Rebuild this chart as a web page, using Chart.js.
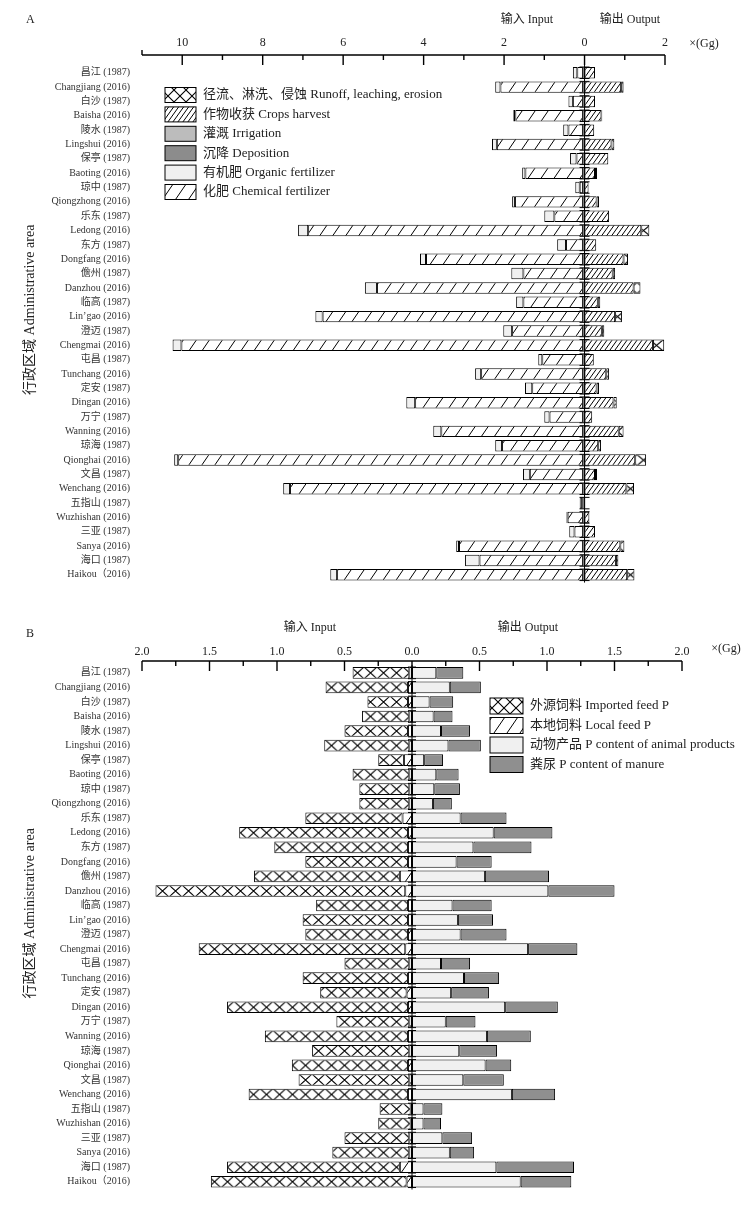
<!DOCTYPE html>
<html>
<head>
<meta charset="utf-8">
<script src="https://cdn.jsdelivr.net/npm/chart.js@4.4.1/dist/chart.umd.min.js"></script>
<style>
  html, body { margin: 0; padding: 0; background: #fff; }
  #wrap { position: relative; width: 756px; height: 1207px; }
  .panel { position: absolute; left: 0; width: 756px; }
</style>
</head>
<body>
<div id="wrap">
  <div class="panel" style="top:0;height:600px"><canvas id="chartA"></canvas></div>
  <div class="panel" style="top:600px;height:607px"><canvas id="chartB"></canvas></div>
</div>
<script>
const labels = ['昌江 (1987)', 'Changjiang (2016)', '白沙 (1987)', 'Baisha (2016)', '陵水 (1987)', 'Lingshui (2016)',
  '保亭 (1987)', 'Baoting (2016)', '琼中 (1987)', 'Qiongzhong (2016)', '乐东 (1987)', 'Ledong (2016)',
  '东方 (1987)', 'Dongfang (2016)', '儋州 (1987)', 'Danzhou (2016)', '临高 (1987)', 'Lin’gao (2016)',
  '澄迈 (1987)', 'Chengmai (2016)', '屯昌 (1987)', 'Tunchang (2016)', '定安 (1987)', 'Dingan (2016)',
  '万宁 (1987)', 'Wanning (2016)', '琼海 (1987)', 'Qionghai (2016)', '文昌 (1987)', 'Wenchang (2016)',
  '五指山 (1987)', 'Wuzhishan (2016)', '三亚 (1987)', 'Sanya (2016)', '海口 (1987)', 'Haikou（2016)'];

// panel A (x Gg), input side
const organicA = [0.11, 0.13, 0.11, 0.05, 0.13, 0.12, 0.16, 0.08, 0.11, 0.07, 0.25, 0.25, 0.22, 0.15, 0.30, 0.30, 0.18, 0.18,
  0.22, 0.22, 0.10, 0.15, 0.18, 0.22, 0.13, 0.20, 0.17, 0.10, 0.17, 0.17, 0.06, 0.03, 0.13, 0.07, 0.36, 0.17];
const chemicalA = [0.14, 2.05, 0.25, 1.68, 0.36, 2.14, 0.16, 1.43, 0.08, 1.69, 0.71, 6.83, 0.42, 3.90, 1.48, 5.12, 1.48, 6.47,
  1.76, 9.98, 1.01, 2.53, 1.26, 4.17, 0.83, 3.52, 2.01, 10.06, 1.32, 7.28, 0.02, 0.38, 0.21, 3.08, 2.57, 6.11];
const irrigationA = [0.01, 0.01, 0.01, 0.01, 0.01, 0.01, 0.01, 0.01, 0.01, 0.01, 0.01, 0.01, 0.01, 0.01, 0.01, 0.01, 0.01, 0.01,
  0.01, 0.01, 0.01, 0.01, 0.01, 0.01, 0.01, 0.01, 0.01, 0.01, 0.01, 0.01, 0.01, 0.01, 0.01, 0.01, 0.01, 0.01];
const depositionA = [0.03, 0.03, 0.03, 0.03, 0.03, 0.03, 0.03, 0.03, 0.03, 0.03, 0.03, 0.03, 0.03, 0.03, 0.03, 0.03, 0.03, 0.03,
  0.03, 0.03, 0.03, 0.03, 0.03, 0.03, 0.03, 0.03, 0.03, 0.03, 0.03, 0.03, 0.03, 0.03, 0.03, 0.03, 0.03, 0.03];
// panel A, output side
const cropsA = [0.26, 0.91, 0.26, 0.42, 0.24, 0.67, 0.59, 0.26, 0.10, 0.30, 0.61, 1.41, 0.29, 0.97, 0.70, 1.22, 0.33, 0.76,
  0.43, 1.70, 0.23, 0.54, 0.30, 0.72, 0.19, 0.85, 0.34, 1.26, 0.26, 1.04, 0.02, 0.12, 0.26, 0.89, 0.78, 1.06];
const runoffA = [0, 0.06, 0, 0.02, 0, 0.07, 0, 0.05, 0, 0.06, 0, 0.20, 0, 0.11, 0.06, 0.17, 0.06, 0.17,
  0.06, 0.28, 0, 0.07, 0.06, 0.08, 0, 0.12, 0.07, 0.27, 0.05, 0.19, 0, 0, 0, 0.10, 0.06, 0.18];
const ticksA = [-10, -8, -6, -4, -2, 0, 2];
const minorA = [-9, -7, -5, -3, -1, 1];

// panel B (x Gg)
const importedB = [0.42, 0.61, 0.30, 0.35, 0.47, 0.63, 0.19, 0.42, 0.37, 0.37, 0.72, 1.25, 0.99, 0.76, 1.08, 1.85, 0.68, 0.78,
  0.76, 1.53, 0.48, 0.78, 0.64, 1.34, 0.54, 1.06, 0.72, 0.86, 0.82, 1.18, 0.23, 0.24, 0.48, 0.57, 1.28, 1.45];
const localB = [0.02, 0.03, 0.03, 0.02, 0.03, 0.02, 0.06, 0.02, 0.02, 0.02, 0.07, 0.03, 0.03, 0.03, 0.09, 0.05, 0.03, 0.03,
  0.03, 0.05, 0.02, 0.03, 0.04, 0.03, 0.02, 0.03, 0.02, 0.03, 0.02, 0.03, 0.01, 0.01, 0.02, 0.02, 0.09, 0.04];
const animalB = [0.18, 0.28, 0.13, 0.16, 0.215, 0.27, 0.09, 0.18, 0.165, 0.155, 0.36, 0.605, 0.455, 0.33, 0.54, 1.01, 0.30, 0.34,
  0.36, 0.86, 0.215, 0.385, 0.29, 0.69, 0.25, 0.555, 0.35, 0.545, 0.38, 0.74, 0.085, 0.085, 0.225, 0.28, 0.625, 0.805];
const manureB = [0.20, 0.23, 0.175, 0.14, 0.215, 0.24, 0.14, 0.165, 0.19, 0.14, 0.34, 0.435, 0.43, 0.26, 0.475, 0.49, 0.29, 0.26,
  0.34, 0.365, 0.215, 0.26, 0.28, 0.39, 0.22, 0.325, 0.28, 0.19, 0.30, 0.32, 0.14, 0.13, 0.22, 0.18, 0.575, 0.375];
const ticksB = [-2, -1.5, -1, -0.5, 0, 0.5, 1, 1.5, 2];
const minorB = [-1.75, -1.25, -0.75, -0.25, 0.25, 0.75, 1.25, 1.75];

const serif = "'Liberation Serif', 'Noto Sans CJK SC', serif";
const neg = arr => arr.map(v => -v);

// fill patterns
const scratch = document.createElement('canvas').getContext('2d');
function tileCanvas(w, h, draw) {
  const c = document.createElement('canvas');
  c.width = w; c.height = h;
  const g = c.getContext('2d');
  g.fillStyle = '#fff';
  g.fillRect(0, 0, w, h);
  g.strokeStyle = '#000';
  draw(g, w, h);
  return c;
}
function hatch(w, h, lw) {
  return scratch.createPattern(tileCanvas(w, h, (g) => {
    g.lineWidth = lw;
    g.beginPath();
    g.moveTo(0, h); g.lineTo(w, 0);
    g.moveTo(-w, h); g.lineTo(0, 0);
    g.moveTo(w, h); g.lineTo(2 * w, 0);
    g.stroke();
  }), 'repeat');
}
function crossTile(w, h) {
  return tileCanvas(w, h, (g) => {
    g.lineWidth = 1.1;
    g.beginPath();
    g.moveTo(0, 0); g.lineTo(w, h);
    g.moveTo(w, 0); g.lineTo(0, h);
    g.stroke();
  });
}
const chemPat = hatch(13, 19, 1);
const cropPat = hatch(5, 7, 1);
const crossPat = scratch.createPattern(crossTile(12, 12), 'repeat');

// cross pattern lined up with each bar
const crossTiles = {};
function crossFill(c) {
  const chart = c.chart;
  if (c.type !== 'data' || !chart.scales || !chart.scales.y) return crossPat;
  const y = chart.scales.y;
  const h = Math.round((y.bottom - y.top) / labels.length * 0.8);
  if (!(h >= 4)) return crossPat;
  if (!crossTiles[h]) crossTiles[h] = crossTile(13, h);
  const p = scratch.createPattern(crossTiles[h], 'repeat');
  const top = y.getPixelForValue(c.dataIndex) - h / 2;
  p.setTransform(new DOMMatrix().translate(0, top));
  return p;
}

const barStyle = {
  borderColor: '#000',
  borderWidth: 1,
  borderSkipped: false,
  barPercentage: 0.8,
  categoryPercentage: 1
};

// top axis drawn by hand
const topAxis = {
  id: 'topAxis',
  afterDraw(chart, args, o) {
    const { ctx, scales: { x } } = chart;
    const px = v => x.getPixelForValue(v);
    ctx.save();
    ctx.strokeStyle = '#000';
    ctx.lineWidth = 1.4;
    ctx.beginPath();
    ctx.moveTo(px(x.min), o.axisY);
    ctx.lineTo(px(x.max), o.axisY);
    o.major.forEach(v => { ctx.moveTo(px(v), o.axisY); ctx.lineTo(px(v), o.axisY + 10); });
    o.minor.forEach(v => { ctx.moveTo(px(v), o.axisY); ctx.lineTo(px(v), o.axisY + 5); });
    (o.up || []).forEach(v => { ctx.moveTo(px(v), o.axisY); ctx.lineTo(px(v), o.axisY - 5); });
    ctx.stroke();
    ctx.fillStyle = '#222';
    ctx.font = '12px ' + serif;
    ctx.textAlign = 'center';
    ctx.textBaseline = 'middle';
    o.major.forEach(v => ctx.fillText(o.fmt(v), px(v), o.labelY));
    o.texts.forEach(t => {
      ctx.font = (t.size || 12) + 'px ' + serif;
      ctx.textAlign = t.align || 'center';
      ctx.fillText(t.text, t.x, t.y);
    });
    // axis title on the left
    const y = chart.scales.y;
    ctx.save();
    ctx.font = '14px ' + serif;
    ctx.translate(30, (y.top + y.bottom) / 2 - 14);
    ctx.rotate(-Math.PI / 2);
    ctx.textAlign = 'center';
    ctx.fillText('行政区域 Administrative area', 0, 0);
    ctx.restore();
    ctx.restore();
  }
};

// zero line with small caps on every bar
const zeroMarks = {
  id: 'zeroMarks',
  afterDatasetsDraw(chart, args, o) {
    const { ctx, scales: { x } } = chart;
    const x0 = x.getPixelForValue(0);
    const bars = chart.getDatasetMeta(0).data;
    let top = Infinity, bot = -Infinity;
    ctx.save();
    ctx.strokeStyle = '#000';
    ctx.lineWidth = 1;
    ctx.beginPath();
    bars.forEach(b => {
      const h = b.height / 2;
      ctx.moveTo(x0 - o.cap, b.y - h); ctx.lineTo(x0 + o.cap, b.y - h);
      ctx.moveTo(x0 - o.cap, b.y + h); ctx.lineTo(x0 + o.cap, b.y + h);
      top = Math.min(top, b.y - h);
      bot = Math.max(bot, b.y + h);
    });
    ctx.moveTo(x0, top - 2);
    ctx.lineTo(x0, bot + 2);
    ctx.stroke();
    ctx.restore();
  }
};

// legend boxes inside the plot
const boxLegend = {
  id: 'boxLegend',
  afterDraw(chart, args, o) {
    const { ctx } = chart;
    ctx.save();
    o.items.forEach((it, i) => {
      const cy = o.y + i * o.step;
      ctx.fillStyle = it.fill;
      ctx.fillRect(o.x, cy - o.h / 2, o.w, o.h);
      ctx.strokeStyle = '#000';
      ctx.lineWidth = 1;
      ctx.strokeRect(o.x, cy - o.h / 2, o.w, o.h);
      ctx.fillStyle = '#222';
      ctx.font = '13px ' + serif;
      ctx.textAlign = 'left';
      ctx.textBaseline = 'middle';
      ctx.fillText(it.text, o.x + o.w + 7, cy);
    });
    ctx.restore();
  }
};

function yScale() {
  return {
    stacked: true,
    grid: { display: false, drawTicks: false },
    border: { display: false },
    ticks: { autoSkip: false, padding: 12, color: '#333', font: { family: serif, size: 10 } },
    afterFit(s) { s.width = 142; }
  };
}

new Chart(document.getElementById('chartA'), {
  type: 'bar',
  data: {
    labels: labels,
    datasets: [
      { label: '沉降 Deposition', data: neg(depositionA), backgroundColor: '#8c8c8c', ...barStyle },
      { label: '灌溉 Irrigation', data: neg(irrigationA), backgroundColor: '#bcbcbc', ...barStyle },
      { label: '化肥 Chemical fertilizer', data: neg(chemicalA), backgroundColor: chemPat, ...barStyle },
      { label: '有机肥 Organic fertilizer', data: neg(organicA), backgroundColor: '#f0f0f0', ...barStyle },
      { label: '作物收获 Crops harvest', data: cropsA, backgroundColor: cropPat, ...barStyle },
      { label: '径流、淋洗、侵蚀 Runoff, leaching, erosion', data: runoffA, backgroundColor: crossFill, ...barStyle }
    ]
  },
  options: {
    indexAxis: 'y',
    responsive: true,
    maintainAspectRatio: false,
    animation: false,
    layout: { padding: { top: 65.6, bottom: 5.2, left: 0, right: 91 } },
    plugins: {
      legend: { display: false },
      tooltip: { enabled: false },
      topAxis: {
        axisY: 55, labelY: 43, major: ticksA, minor: minorA, up: [-11],
        fmt: v => String(Math.abs(v)),
        texts: [
          { text: 'A', x: 26, y: 20, align: 'left' },
          { text: '输入 Input', x: 527, y: 20 },
          { text: '输出 Output', x: 630, y: 20 },
          { text: '×(Gg)', x: 704, y: 44 }
        ]
      },
      zeroMarks: { cap: 5 },
      boxLegend: {
        x: 165, y: 95, step: 19.4, w: 31, h: 15,
        items: [
          { fill: crossPat, text: '径流、淋洗、侵蚀 Runoff, leaching, erosion' },
          { fill: cropPat, text: '作物收获 Crops harvest' },
          { fill: '#bcbcbc', text: '灌溉 Irrigation' },
          { fill: '#8c8c8c', text: '沉降 Deposition' },
          { fill: '#f0f0f0', text: '有机肥 Organic fertilizer' },
          { fill: chemPat, text: '化肥 Chemical fertilizer' }
        ]
      }
    },
    scales: {
      x: { stacked: true, min: -11, max: 2, display: false },
      y: yScale()
    }
  },
  plugins: [topAxis, zeroMarks, boxLegend]
});

new Chart(document.getElementById('chartB'), {
  type: 'bar',
  data: {
    labels: labels,
    datasets: [
      { label: '本地饲料 Local feed P', data: neg(localB), backgroundColor: chemPat, ...barStyle },
      { label: '外源饲料 Imported feed P', data: neg(importedB), backgroundColor: crossFill, ...barStyle },
      { label: '动物产品 P content of animal products', data: animalB, backgroundColor: '#f0f0f0', ...barStyle },
      { label: '粪尿 P content of manure', data: manureB, backgroundColor: '#8f8f8f', ...barStyle }
    ]
  },
  options: {
    indexAxis: 'y',
    responsive: true,
    maintainAspectRatio: false,
    animation: false,
    layout: { padding: { top: 65.6, bottom: 6.5, left: 0, right: 74 } },
    plugins: {
      legend: { display: false },
      tooltip: { enabled: false },
      topAxis: {
        axisY: 61, labelY: 52, major: ticksB, minor: minorB,
        fmt: v => Math.abs(v).toFixed(1),
        texts: [
          { text: 'B', x: 26, y: 34, align: 'left' },
          { text: '输入 Input', x: 310, y: 28 },
          { text: '输出 Output', x: 528, y: 28 },
          { text: '×(Gg)', x: 726, y: 49 }
        ]
      },
      zeroMarks: { cap: 4 },
      boxLegend: {
        x: 490, y: 106, step: 19.5, w: 33, h: 16,
        items: [
          { fill: crossPat, text: '外源饲料 Imported feed P' },
          { fill: chemPat, text: '本地饲料 Local feed P' },
          { fill: '#f0f0f0', text: '动物产品 P content of animal products' },
          { fill: '#8f8f8f', text: '粪尿 P content of manure' }
        ]
      }
    },
    scales: {
      x: { stacked: true, min: -2, max: 2, display: false },
      y: yScale()
    }
  },
  plugins: [topAxis, zeroMarks, boxLegend]
});
</script>
</body>
</html>
